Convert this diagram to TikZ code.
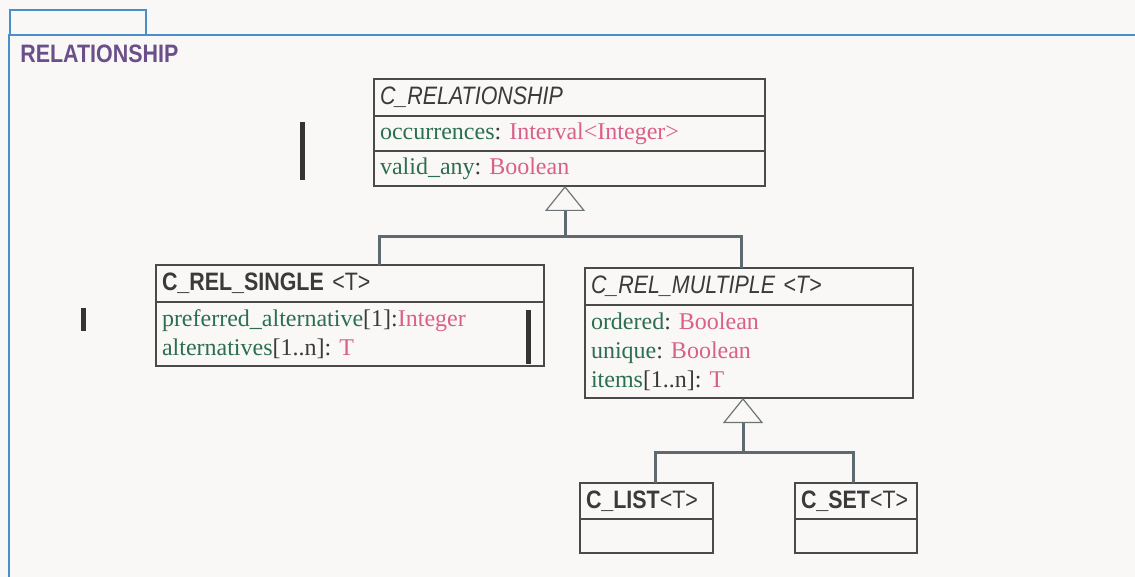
\documentclass[tikz,border=0pt]{standalone}
\usepackage{fontspec}
\setmainfont{Liberation Serif}
\newfontfamily\umlsans[FakeStretch=0.85]{Liberation Sans}
\usetikzlibrary{arrows.meta,positioning}

\definecolor{umlbg}{HTML}{F9F8F6}
\definecolor{pkgblue}{HTML}{4A8FCB}
\definecolor{pkgpurple}{HTML}{6A4F8A}
\definecolor{linkgray}{HTML}{5E6A70}
\definecolor{tipgray}{HTML}{6D7478}
\definecolor{boxline}{HTML}{4A4A4A}
\definecolor{umltext}{HTML}{3A3A3A}
\definecolor{attrgreen}{HTML}{2C6E52}
\definecolor{typepink}{HTML}{D9608A}

\newcommand{\an}[1]{\textcolor{attrgreen}{#1}}
\newcommand{\ty}[1]{\textcolor{typepink}{#1}}

\begin{document}
\begin{tikzpicture}[
		x={(0.5pt,0)}, y={(0,-0.5pt)},
		cls/.style={draw=boxline, line width=0.6pt, fill=umlbg, anchor=north west, inner xsep=3pt, inner ysep=0pt, outer sep=0pt, align=left, text=umltext},
		ctitle/.style={cls, font=\umlsans\fontsize{12.6}{14}\selectfont},
		cattr/.style={cls, font=\fontsize{12}{14.5}\selectfont\frenchspacing},
		inherit/.style={draw=linkgray, line width=1.5pt},
		gen/.style={inherit, -{Triangle[open, length=12.5pt, width=20pt, line width=0.6pt, color=tipgray]}},
		bar/.style={fill=umltext!90!black},
	]
		% package frame
		\fill[umlbg] (0,0) rectangle (1135,577);
		\useasboundingbox (0,0) rectangle (1135,577);
		\draw[pkgblue, line width=1pt] (10,35.5) rectangle (146,10);
		\draw[pkgblue, line width=1pt] (8.5,577) -- (8.5,35.5) -- (1135,35.5);
		\node (pkgname) [anchor=base west, inner sep=0pt, text=pkgpurple, font=\umlsans\bfseries\fontsize{12.6}{14}\selectfont] at (20,63) {RELATIONSHIP};
		
		% C_RELATIONSHIP
		\node (crel) [ctitle, text width=189.5pt, minimum height=18.5pt] at (374,79) {\itshape C\_RELATIONSHIP};
		\node (crelocc) [cattr, text width=189.5pt, minimum height=17.5pt] at (crel.south west) {\an{occurrences}: \ty{Interval<Integer>}};
		\node (crelvalid) [cattr, text width=189.5pt, minimum height=17.5pt] at (crelocc.south west) {\an{valid\_any}: \ty{Boolean}};
		
		% C_REL_SINGLE
		\node (single) [ctitle, text width=188pt, minimum height=18.5pt] at (156,265) {\textbf{C\_REL\_SINGLE} <T>};
		\node (singleattr) [cattr, text width=188pt, minimum height=32pt] at (single.south west) {\an{preferred\_alternative}[1]:\ty{Integer}\\\an{alternatives}[1..n]: \ty{T}};
		
		% C_REL_MULTIPLE
		\node (multiple) [ctitle, text width=158pt, minimum height=18.5pt] at (585,268) {\itshape C\_REL\_MULTIPLE <T>};
		\node (multipleattr) [cattr, text width=158pt, minimum height=46.5pt] at (multiple.south west) {\an{ordered}: \ty{Boolean}\\\an{unique}: \ty{Boolean}\\\an{items}[1..n]: \ty{T}};
		
		% C_LIST, C_SET
		\node (clist) [ctitle, text width=60.5pt, minimum height=18pt] at (580,483) {\textbf{C\_LIST}<T>};
		\node (clistbody) [cattr, text width=60.5pt, minimum height=17pt] at (clist.south west) {};
		\node (cset) [ctitle, text width=55pt, minimum height=18pt] at (795,483) {\textbf{C\_SET}<T>};
		\node (csetbody) [cattr, text width=55pt, minimum height=17pt] at (cset.south west) {};
		
		% generalisations
		\coordinate (j1) at (565,237);
		\draw[inherit] ([xshift=14.5pt]single.north) |- (j1) -| ([xshift=-4pt]multiple.north);
		\draw[gen] (j1) -- (j1 |- crelvalid.south);
		
		\coordinate (j2) at (743,452);
		\draw[inherit] ([xshift=4.25pt]clist.north) |- (j2) -| ([xshift=-1.5pt]cset.north);
		\draw[gen] (j2) -- (j2 |- multipleattr.south);
		
		% bars
		\fill[bar] (300,122) rectangle (305,180);
		\fill[bar] (81,308) rectangle (86,331);
		\fill[bar] (526,310) rectangle (531,364);
	\end{tikzpicture}
\end{document}
